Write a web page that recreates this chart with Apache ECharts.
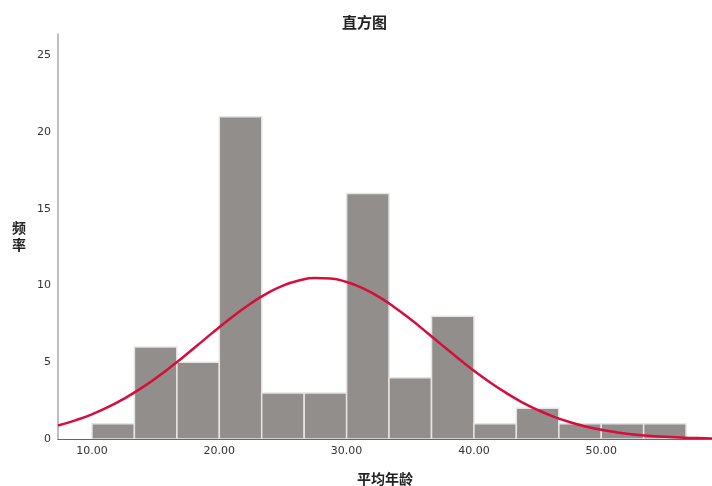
<!DOCTYPE html>
<html>
<head>
<meta charset="utf-8">
<script src="https://cdn.jsdelivr.net/npm/echarts@6/dist/echarts.min.js"></script>
<style>
html,body{margin:0;padding:0;background:#fff;}
#chart{width:712px;height:486px;}
</style>
</head>
<body>
<div id="chart"></div>
<script>
// Histogram bins (start edges), bin width and counts
const binStarts = [10, 13.33, 16.67, 20, 23.33, 26.67, 30, 33.33, 36.67, 40, 43.33, 46.67, 50, 53.33];
const binWidth = 3.333;
const counts = [1, 6, 5, 21, 3, 3, 16, 4, 8, 1, 2, 1, 1, 1];

// Normal curve
const curveX = [7.33, 8.75, 10, 11.25, 12.5, 13.75, 15, 16.25, 17.5, 18.75, 20, 21.25, 22.5, 23.75, 25, 26.25, 27.5, 28.75, 30, 31.25, 32.5, 33.75, 35, 36.25, 37.5, 38.75, 40, 41.25, 42.5, 43.75, 45, 46.25, 47.5, 48.75, 50, 51.25, 52.5, 53.75, 55, 56.25, 57.5, 58.7];
const curveY = [0.88, 1.23, 1.61, 2.07, 2.62, 3.25, 3.96, 4.74, 5.57, 6.43, 7.29, 8.10, 8.85, 9.49, 10.0, 10.33, 10.49, 10.46, 10.23, 9.83, 9.28, 8.59, 7.82, 6.98, 6.12, 5.27, 4.45, 3.70, 3.02, 2.41, 1.9, 1.46, 1.11, 0.82, 0.6, 0.43, 0.3, 0.21, 0.14, 0.095, 0.06, 0.04];

const yTicks = [0, 5, 10, 15, 20, 25];
const xTicks = [10, 20, 30, 40, 50];

const barData = binStarts.map((s, i) => [s, s + binWidth, counts[i]]);
const curveData = curveX.map((x, i) => [x, curveY[i]]);

const chart = echarts.init(document.getElementById('chart'), null, {renderer: 'canvas'});
const labelFont = {color: '#333', fontSize: 11, fontFamily: 'DejaVu Sans'};

chart.setOption({
  animation: false,
  backgroundColor: '#fff',
  graphic: [{
    type: 'text', left: 342, top: 15,
    style: {text: '直方图', fontSize: 15, fontWeight: 'bold', fontFamily: 'Noto Sans CJK SC', fill: '#222'}
  }],
  grid: {left: 58, right: 0, top: 34, bottom: 47, containLabel: false, outerBoundsMode: 'none'},
  xAxis: {
    type: 'value', min: 7.33, max: 58.7, z: 5,
    name: '平均年龄', nameLocation: 'middle', nameGap: 33,
    nameTextStyle: {fontSize: 14, fontWeight: 'bold', fontFamily: 'Noto Sans CJK SC', color: '#222'},
    axisLine: {show: true, lineStyle: {color: '#666', width: 1.2}},
    axisTick: {show: false},
    splitLine: {show: false},
    axisLabel: Object.assign({margin: 7, formatter: v => xTicks.some(t => Math.abs(t - v) < 1e-6) ? v.toFixed(2) : ''}, labelFont)
  },
  yAxis: {
    type: 'value', min: 0, max: 26.4, interval: 5,
    name: '频\n率', nameLocation: 'middle', nameGap: 32, nameRotate: 0,
    nameTextStyle: {fontSize: 14, fontWeight: 'bold', fontFamily: 'Noto Sans CJK SC', color: '#222', lineHeight: 17},
    axisLine: {show: true, lineStyle: {color: '#aaa', width: 1.5}},
    axisTick: {show: false},
    splitLine: {show: false},
    axisLabel: Object.assign({margin: 7, formatter: v => yTicks.indexOf(v) >= 0 ? String(v) : ''}, labelFont)
  },
  series: [{
    type: 'custom',
    data: barData,
    encode: {x: [0, 1], y: 2},
    renderItem: function (params, api) {
      const p0 = api.coord([api.value(0), api.value(2)]);
      const p1 = api.coord([api.value(1), 0]);
      return {
        type: 'rect',
        shape: {x: p0[0], y: p0[1], width: p1[0] - p0[0], height: p1[1] - p0[1]},
        style: {fill: '#928e8c', stroke: '#e6e5e4', lineWidth: 1.5}
      };
    },
    z: 2
  }, {
    type: 'line',
    data: curveData,
    smooth: true,
    showSymbol: false,
    lineStyle: {color: '#d40f3d', width: 2.5},
    z: 3
  }]
});
</script>
</body>
</html>
